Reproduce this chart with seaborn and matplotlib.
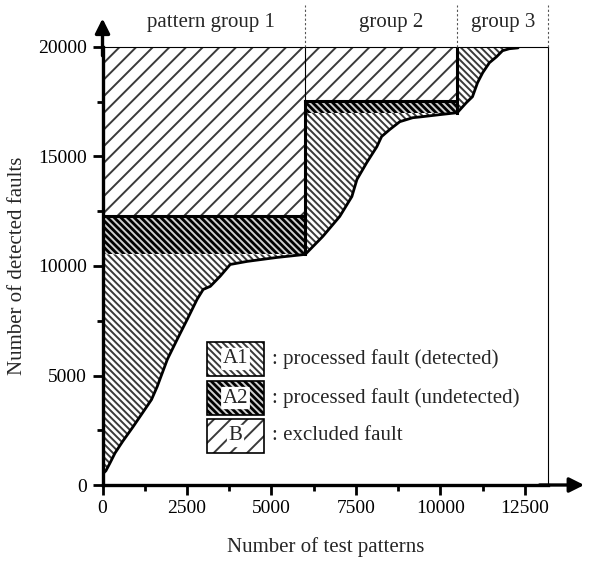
import numpy as np
import matplotlib
matplotlib.use("Agg")
import matplotlib.pyplot as plt
from matplotlib.patches import Rectangle
import seaborn as sns

# Cumulative detected faults versus number of applied test patterns
patterns = [0, 100, 220, 370, 600, 900, 1200, 1450, 1620, 1920, 2210, 2510,
            2800, 2980, 3190, 3480, 3780, 4280, 5160, 6000,
            6520, 7020, 7380, 7530, 7820, 8120, 8260, 8500, 8800, 9180,
            9480, 9980, 10500,
            10770, 10950, 11100, 11250, 11450, 11660, 11840, 12040, 12300]
detected = [500, 650, 1000, 1460, 2000, 2650, 3330, 3900, 4500, 5740, 6650, 7570,
            8480, 8930, 9070, 9530, 10070, 10210, 10390, 10530,
            11350, 12260, 13170, 13950, 14720, 15450, 15910, 16230, 16590, 16770,
            16820, 16910, 17000,
            17460, 17730, 18370, 18820, 19280, 19550, 19830, 19920, 19960]

# Pattern group boundaries and faults processed by each group
group_edges = [0, 6000, 10500, 13200]
group_names = ["pattern group 1", "group 2", "group 3"]
group_label_x = [3200, 8550, 11850]
processed = [12300, 17550, 20000]
total_faults = 20000

legend_keys = ["A1", "A2", "B"]
legend_texts = [": processed fault (detected)",
                ": processed fault (undetected)",
                ": excluded fault"]

sns.set_theme(style="white")
plt.rcParams["font.family"] = ["Liberation Serif", "DejaVu Serif"]
plt.rcParams["hatch.linewidth"] = 1.4

fig = plt.figure(figsize=(5.96, 5.62), dpi=100)
ax = fig.add_axes([0.172, 0.137, 0.7483, 0.7794])

px = np.array(patterns, dtype=float)
dy = np.array(detected, dtype=float)

hatch_a1 = dict(facecolor="white", edgecolor="#3a3a3a", hatch="\\" * 5, linewidth=0)
hatch_a2 = dict(facecolor="black", edgecolor="#cfcfcf", hatch="\\" * 5, linewidth=0)
hatch_b = dict(facecolor="white", edgecolor="#3a3a3a", hatch="//", linewidth=0)

level_end = [np.interp(group_edges[i + 1], px, dy) if i < 2 else total_faults
             for i in range(3)]

for i in range(3):
    x0, x1 = group_edges[i], group_edges[i + 1]
    # detected part (A1): between the curve and the group's detected level
    m = (px >= x0) & (px <= x1)
    xs, ys = px[m], dy[m]
    ax.fill_between(xs, ys, level_end[i], zorder=1, **hatch_a1)
    if processed[i] > level_end[i] + 1:
        # processed but undetected (A2)
        ax.fill_between([x0, x1], level_end[i], processed[i], zorder=1, **hatch_a2)
    if processed[i] < total_faults:
        # excluded (B)
        ax.fill_between([x0, x1], processed[i], total_faults, zorder=1, **hatch_b)

sns.lineplot(x=patterns, y=detected, ax=ax, color="black", lw=2.0,
             estimator=None, sort=False, zorder=5)

# group outlines
thick = dict(color="black", lw=2.2, zorder=6, solid_capstyle="projecting")
ax.plot([group_edges[0], group_edges[1]], [processed[0], processed[0]], **thick)
ax.plot([group_edges[1], group_edges[1]], [level_end[0], processed[1]], **thick)
ax.plot([group_edges[1], group_edges[2]], [processed[1], processed[1]], **thick)
ax.plot([group_edges[2], group_edges[2]], [level_end[1], total_faults], **thick)
ax.plot([group_edges[1], group_edges[1]], [processed[1], total_faults],
        color="black", lw=0.8, zorder=6)

ax.set_xlim(group_edges[0], group_edges[-1])
ax.set_ylim(0, total_faults)

# separators and labels above the plot
for xe in group_edges[1:]:
    ax.plot([xe, xe], [total_faults, total_faults * 1.095], color="#555555",
            lw=0.8, ls=(0, (2, 2)), clip_on=False, zorder=6)
for name, xl in zip(group_names, group_label_x):
    ax.text(xl, total_faults * 1.057, name, ha="center", va="center", fontsize=15)

# spines
for s in ["left", "bottom"]:
    ax.spines[s].set_linewidth(2.4)
    ax.spines[s].set_color("black")
for s in ["top", "right"]:
    ax.spines[s].set_linewidth(0.8)
    ax.spines[s].set_color("black")

ax.annotate("", xy=(1.08, 0), xytext=(0.98, 0), xycoords="axes fraction",
            arrowprops=dict(arrowstyle="-|>", lw=2.4, color="black", mutation_scale=22,
                            shrinkA=0, shrinkB=0))
ax.annotate("", xy=(0, 1.065), xytext=(0, 0.98), xycoords="axes fraction",
            arrowprops=dict(arrowstyle="-|>", lw=2.4, color="black", mutation_scale=22,
                            shrinkA=0, shrinkB=0))

ax.set_xticks([0, 2500, 5000, 7500, 10000, 12500])
ax.set_xticks(np.arange(1250, 13200, 2500), minor=True)
ax.set_yticks([0, 5000, 10000, 15000, 20000])
ax.set_yticks(np.arange(2500, 20000, 5000), minor=True)
ax.tick_params(axis="both", which="major", direction="out", length=7, width=2,
               labelsize=14, colors="black", pad=4)
ax.tick_params(axis="both", which="minor", direction="out", length=4, width=2,
               colors="black")
ax.tick_params(bottom=True, left=True, which="both")

ax.set_xlabel("Number of test patterns", fontsize=15, labelpad=14)
ax.set_ylabel("Number of detected faults", fontsize=15, labelpad=8)

# legend drawn as hatched swatches with labels
box_x, box_w, box_h = 0.2343, 0.1278, 0.0776
box_bottoms = [0.2489, 0.1598, 0.0731]
styles = [hatch_a1, hatch_a2, hatch_b]
for key, txt, yb, st in zip(legend_keys, legend_texts, box_bottoms, styles):
    ax.add_patch(Rectangle((box_x, yb), box_w, box_h, transform=ax.transAxes,
                           zorder=7, **st))
    ax.add_patch(Rectangle((box_x, yb), box_w, box_h, transform=ax.transAxes,
                           fill=False, edgecolor="black", lw=1.2, zorder=8))
    ax.text(box_x + box_w / 2, yb + box_h / 2, key, transform=ax.transAxes,
            ha="center", va="center", fontsize=15, zorder=9,
            bbox=dict(boxstyle="round,pad=0.08", facecolor="white", edgecolor="none"))
    ax.text(0.380, yb + box_h / 2, txt, transform=ax.transAxes,
            ha="left", va="center", fontsize=15, zorder=9)

fig.savefig("out.png", dpi=100)
